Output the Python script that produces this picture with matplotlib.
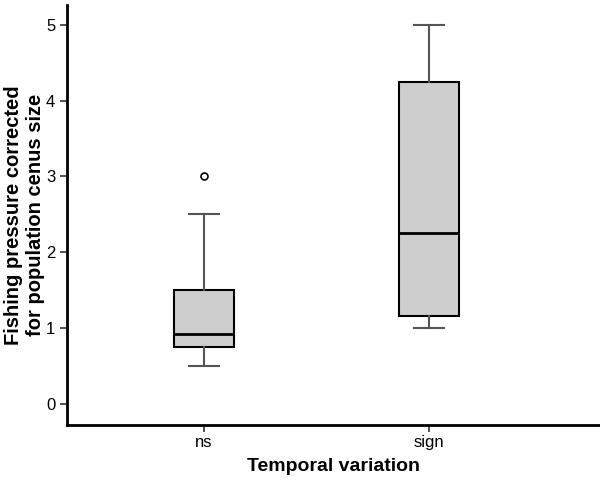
import matplotlib
matplotlib.use("Agg")
import matplotlib.pyplot as plt

plt.rcParams['font.family'] = ['Liberation Sans', 'DejaVu Sans']

categories = ["ns", "sign"]
whislo = [0.5, 1.0]
q1 = [0.75, 1.16]
med = [0.92, 2.25]
q3 = [1.5, 4.25]
whishi = [2.5, 5.0]
fliers = [[3.0], []]

stats = []
for i, c in enumerate(categories):
    stats.append(dict(label=c, whislo=whislo[i], q1=q1[i], med=med[i],
                      q3=q3[i], whishi=whishi[i], fliers=fliers[i]))

fig = plt.figure(figsize=(6, 4.82), dpi=100)
ax = fig.add_axes([67/600, 1-425/482, 1-67/600, (425-5)/482])

ax.bxp(stats, positions=[1, 2], widths=0.267, patch_artist=True,
       boxprops=dict(facecolor="#cecece", edgecolor="black", linewidth=1.5),
       medianprops=dict(color="black", linewidth=2),
       whiskerprops=dict(color="#555555", linewidth=1.5),
       capprops=dict(color="#555555", linewidth=1.5),
       capwidths=0.133,
       flierprops=dict(marker="o", markerfacecolor="white", markeredgecolor="black",
                       markersize=5, markeredgewidth=1.2))

ax.set_xlim(0.391, 2.76)
ax.set_ylim(-0.277, 5.26)
ax.set_yticks([0, 1, 2, 3, 4, 5])
ax.set_xticks([1, 2])
ax.set_xticklabels(categories)
for s in ["top", "right"]:
    ax.spines[s].set_visible(False)
for s in ["left", "bottom"]:
    ax.spines[s].set_linewidth(2)
ax.tick_params(axis="both", labelsize=12, width=1.2, length=5, color="#333333")
ax.tick_params(axis="x", pad=2)
ax.set_xlabel("Temporal variation", fontsize=14, fontweight="bold", labelpad=6)
ax.set_ylabel("Fishing pressure corrected\nfor population cenus size", fontsize=14.5,
              fontweight="bold", linespacing=1.15)
ax.yaxis.set_label_coords(-0.042, 0.5)

fig.savefig("out.png", dpi=100)
